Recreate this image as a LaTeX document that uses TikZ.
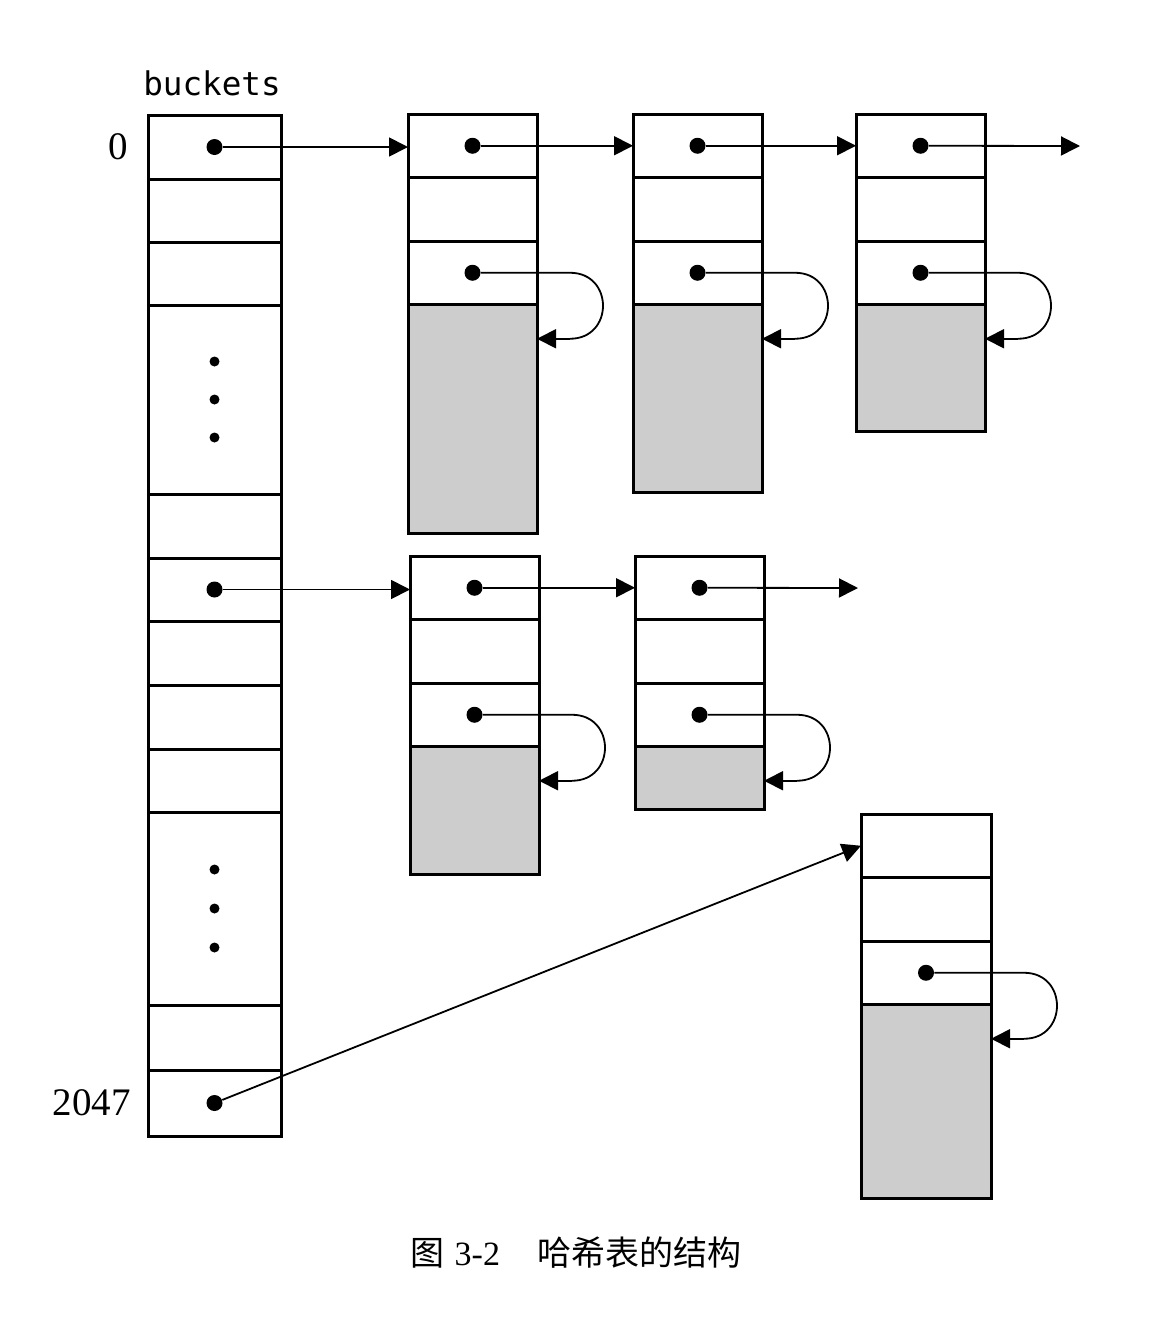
\documentclass[tikz,border=0pt]{standalone}
\usepackage{fontspec}
\setmainfont{Liberation Serif}
\newfontfamily\monofont{DejaVu Sans Mono}
\newfontfamily\cjk{Noto Sans CJK SC}
\usetikzlibrary{arrows.meta,calc}
\definecolor{shade}{RGB}{205,205,205}
\begin{document}
\begin{tikzpicture}[x=0.5pt,y=-0.5pt,
  cell/.style={draw,line width=1.5pt,minimum width=64.5pt,minimum height=31.75pt,anchor=north west,inner sep=0pt,outer sep=0pt},
  bcell/.style={cell,minimum width=66.5pt},
  graycell/.style={cell,fill=shade},
  dot/.style={circle,fill=black,inner sep=0pt,minimum size=8pt},
  sdot/.style={circle,fill=black,inner sep=0pt,minimum size=5pt},
  con/.style={draw,line width=0.9pt,-{Triangle[length=9.5pt,width=9.5pt]}}
]
\useasboundingbox (0,0) rectangle (1168,1328);

% ---------------- buckets column ----------------
\node[bcell,minimum height=32pt] (b0) at (148,115) {};
\node[bcell,minimum height=31.5pt] (b1) at (148,179) {};
\node[bcell,minimum height=31.5pt] (b2) at (148,242) {};
\node[bcell,minimum height=94.5pt] (bd1) at (148,305) {};
\node[bcell,minimum height=32pt] (b3) at (148,494) {};
\node[bcell,minimum height=31.5pt] (b4) at (148,558) {};
\node[bcell,minimum height=32pt] (b5) at (148,621) {};
\node[bcell,minimum height=32pt] (b6) at (148,685) {};
\node[bcell,minimum height=31.5pt] (b7) at (148,749) {};
\node[bcell,minimum height=96.5pt] (bd2) at (148,812) {};
\node[bcell,minimum height=32.5pt] (b8) at (148,1005) {};
\node[bcell,minimum height=33pt] (b9) at (148,1070) {};

\node[sdot] (e1) at ($(bd1.center)+(0,-38)$) {};
\node[sdot] (e2) at (bd1.center) {};
\node[sdot] (e3) at ($(bd1.center)+(0,38)$) {};
\node[sdot] (e4) at ($(bd2.center)+(0,-39)$) {};
\node[sdot] (e5) at (bd2.center) {};
\node[sdot] (e6) at ($(bd2.center)+(0,39)$) {};

\node[dot] (pb0) at (b0.center) {};
\node[dot] (pb4) at (b4.center) {};
\node[dot] (pb9) at (b9.center) {};

\node[font=\monofont\fontsize{16.3pt}{18pt}\selectfont] (lbl) at (212,83) {buckets};
\node[font=\fontsize{19.5pt}{22pt}\selectfont] (l0) at (118,147) {0};
\node[font=\fontsize{19.5pt}{22pt}\selectfont] (l2047) at (92,1103) {2047};

% ---------------- record 1 ----------------
\node[cell] (r1a) at (408,114) {};
\node[cell] (r1b) at (408,177.5) {};
\node[cell] (r1c) at (408,241) {};
\node[graycell,minimum height=114.5pt] (g1) at (408,304.5) {};
% ---------------- record 2 ----------------
\node[cell] (r2a) at (633,114) {};
\node[cell] (r2b) at (633,177.5) {};
\node[cell] (r2c) at (633,241) {};
\node[graycell,minimum height=94pt] (g2) at (633,304.5) {};
% ---------------- record 3 ----------------
\node[cell] (r3a) at (856,114) {};
\node[cell] (r3b) at (856,177.5) {};
\node[cell] (r3c) at (856,241) {};
\node[graycell,minimum height=63.5pt] (g3) at (856,304.5) {};
% ---------------- record 4 ----------------
\node[cell] (r4a) at (410,556) {};
\node[cell] (r4b) at (410,619.5) {};
\node[cell] (r4c) at (410,683) {};
\node[graycell,minimum height=64pt] (g4) at (410,746.5) {};
% ---------------- record 5 ----------------
\node[cell] (r5a) at (635,556) {};
\node[cell] (r5b) at (635,619.5) {};
\node[cell] (r5c) at (635,683) {};
\node[graycell,minimum height=31.5pt] (g5) at (635,746.5) {};
% ---------------- record 6 ----------------
\node[cell,minimum width=65pt] (r6a) at (861,814) {};
\node[cell,minimum width=65pt] (r6b) at (861,877.5) {};
\node[cell,minimum width=65pt] (r6c) at (861,941) {};
\node[graycell,minimum width=65pt,minimum height=97pt] (g6) at (861,1004.5) {};

% dots in records
\foreach \r in {1,...,5}{
  \node[dot] (p\r a) at (r\r a.center) {};
}
\foreach \r in {1,...,6}{
  \node[dot] (p\r c) at (r\r c.center) {};
}

% free ends
\coordinate (end3) at (1080,146);
\coordinate (end5) at (858,588);

% ---------------- chain arrows ----------------
\draw[con] (pb0) -- (r1a.west |- pb0);
\draw[con] (p1a) -- (r2a.west);
\draw[con] (p2a) -- (r3a.west);
\draw[con] (p3a) -- (end3);
\draw[con] (pb4) -- (r4a.west |- pb4);
\draw[con] (p4a) -- (r5a.west);
\draw[con] (p5a) -- (end5);
\draw[con] (pb9) -- (r6a.west);

% ---------------- self loops ----------------
\foreach \r in {1,...,6}{
  \coordinate (t\r) at ($(p\r c -| g\r.east)+(0,66)$);
  \coordinate (u\r) at ($(p\r c -| g\r.east)+(33,0)$);
  \coordinate (v\r) at ($(p\r c -| g\r.east)+(33,66)$);
  \draw[line width=0.9pt] (p\r c) -- (u\r) to[out=0,in=0,distance=22pt] (v\r);
  \draw[con] (v\r) -- (t\r);
}

% ---------------- caption ----------------
\node[font=\fontsize{17pt}{20pt}\selectfont] (cap) at (576,1253)
  {{\cjk 图}\hspace{0.3em}3-2\hspace{1.1em}{\cjk 哈希表的结构}};
\end{tikzpicture}
\end{document}
